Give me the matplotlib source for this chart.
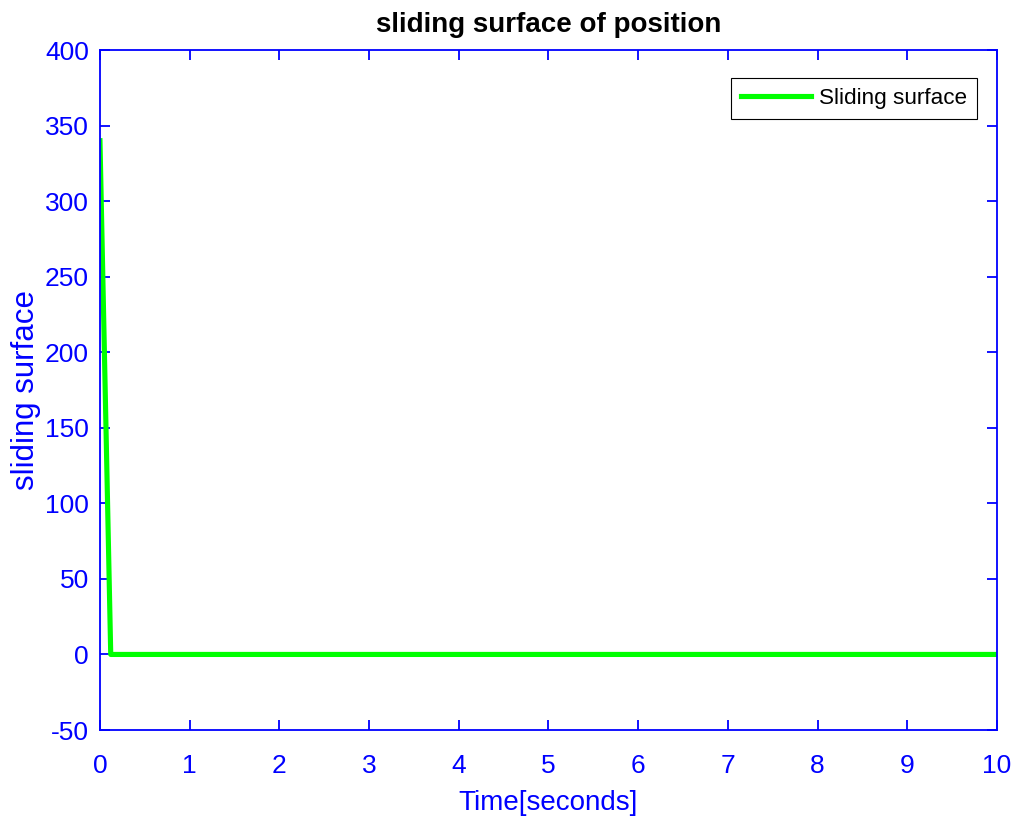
import matplotlib
import matplotlib.pyplot as plt

matplotlib.use("Agg")

# data
time_s = [0.0, 0.12, 10.0]
surface = [340.0, 0.0, 0.0]
x_ticks = list(range(0, 11))
y_ticks = list(range(-50, 401, 50))

plt.rcParams["font.family"] = ["Liberation Sans", "DejaVu Sans"]
plt.rcParams["axes.unicode_minus"] = False

fig = plt.figure(figsize=(10.17, 8.23), dpi=100)
ax = fig.add_axes([0.0983, 0.1130, 0.8820, 0.8262])

ax.plot(time_s, surface, color="#00ff00", linewidth=3.7, label="Sliding surface")

ax.set_xlim(0, 10)
ax.set_ylim(-50, 400)
ax.set_xticks(x_ticks)
ax.set_yticks(y_ticks)

blue = "#0000ff"
for side in ax.spines.values():
    side.set_color(blue)
    side.set_linewidth(1.3)
ax.tick_params(direction="in", length=7.5, width=1.3, colors=blue,
               labelsize=19, top=True, right=True)
ax.tick_params(axis="x", pad=17)
ax.tick_params(axis="y", pad=8)

ax.set_xlabel("Time[seconds]", color=blue, fontsize=20, labelpad=9)
ax.set_ylabel("sliding surface", color=blue, fontsize=22.5, labelpad=3)
ax.set_title("sliding surface of position", fontsize=20, fontweight="bold", pad=13)

leg = ax.legend(loc="upper right", bbox_to_anchor=(0.9777, 0.9588), borderaxespad=0,
                fontsize=16.2, fancybox=False, framealpha=1, edgecolor="black",
                handlelength=3.1, handletextpad=0.35, borderpad=0.45)
leg.get_frame().set_linewidth(0.8)

fig.savefig("out.png", dpi=100)
plt.close()
